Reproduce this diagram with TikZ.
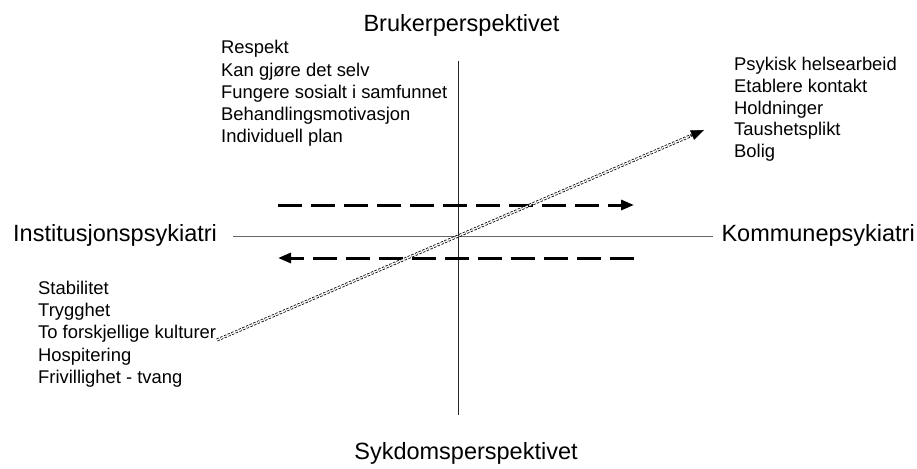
\documentclass[tikz,border=0pt]{standalone}
\usepackage{fontspec}
\setmainfont{Liberation Sans}
\usetikzlibrary{arrows.meta,calc}
\begin{document}
\begin{tikzpicture}[x=1pt,y=-1pt,
  title/.style={font=\fontsize{23.5}{28}\selectfont, inner sep=0pt},
  item/.style={font=\fontsize{18.4}{22}\selectfont, inner sep=0pt, anchor=base west},
  vaxis/.style={line width=0.8pt, black!85},
  haxis/.style={line width=0.8pt, black!60},
  flow/.style={line width=3pt, dash pattern=on 24pt off 9pt, -{Triangle[length=13pt,width=10pt]}},
  cross/.style={draw=black, double=white, double distance=1.4pt, line width=0.8pt, dash pattern=on 2.4pt off 1.6pt},
  crosstip/.style={line width=0.5pt, -{Triangle[length=13pt,width=10pt]}}]
\useasboundingbox (0,0) rectangle (917,468);
% axis titles
\node[title, anchor=base] (top) at (461.5,31.5) {Brukerperspektivet};
\node[title, anchor=base] (bot) at (466,459) {Sykdomsperspektivet};
\node[title, anchor=base west] (left) at (13,241.5) {Institusjonspsykiatri};
\node[title, anchor=base east] (right) at (915,241.5) {Kommunepsykiatri};
% axes
\coordinate (vt) at (458.5,61);
\coordinate (vb) at (458.5,415);
\coordinate (hl) at (233,236);
\coordinate (hr) at (713,236);
\draw[vaxis] (vt) -- (vb);
\draw[haxis] (hl) -- (hr);
% upper left list
\node[item] (ul1) at (221,54) {Respekt};
\node[item] (ul2) at (221,76.2) {Kan gjøre det selv};
\node[item] (ul3) at (221,98.4) {Fungere sosialt i samfunnet};
\node[item] (ul4) at (221,120.6) {Behandlingsmotivasjon};
\node[item] (ul5) at (221,142.8) {Individuell plan};
% upper right list
\node[item] (ur1) at (734,70.5) {Psykisk helsearbeid};
\node[item] (ur2) at (734,92.3) {Etablere kontakt};
\node[item] (ur3) at (734,114.1) {Holdninger};
\node[item] (ur4) at (734,135.9) {Taushetsplikt};
\node[item] (ur5) at (734,157.7) {Bolig};
% lower left list
\node[item] (ll1) at (38,294.3) {Stabilitet};
\node[item] (ll2) at (38,316.6) {Trygghet};
\node[item] (ll3) at (38,338.9) {To forskjellige kulturer};
\node[item] (ll4) at (38,361.2) {Hospitering};
\node[item] (ll5) at (38,383.5) {Frivillighet - tvang};
% dashed arrows
\coordinate (a1s) at (278,205);
\coordinate (a1e) at (634,205);
\coordinate (a2s) at (634,258);
\coordinate (a2e) at (278,258);
\draw[flow] (a1s) -- (a1e);
\draw[flow] (a2s) -- (a2e);
% double dotted arrow
\coordinate (cs) at (217,340);
\coordinate (ce) at (704,130);
\coordinate (cm) at ($(cs)!0.975!(ce)$);
\draw[cross] (cs) -- (cm);
\draw[crosstip] ($(cs)!0.97!(ce)$) -- (ce);
\end{tikzpicture}
\end{document}
